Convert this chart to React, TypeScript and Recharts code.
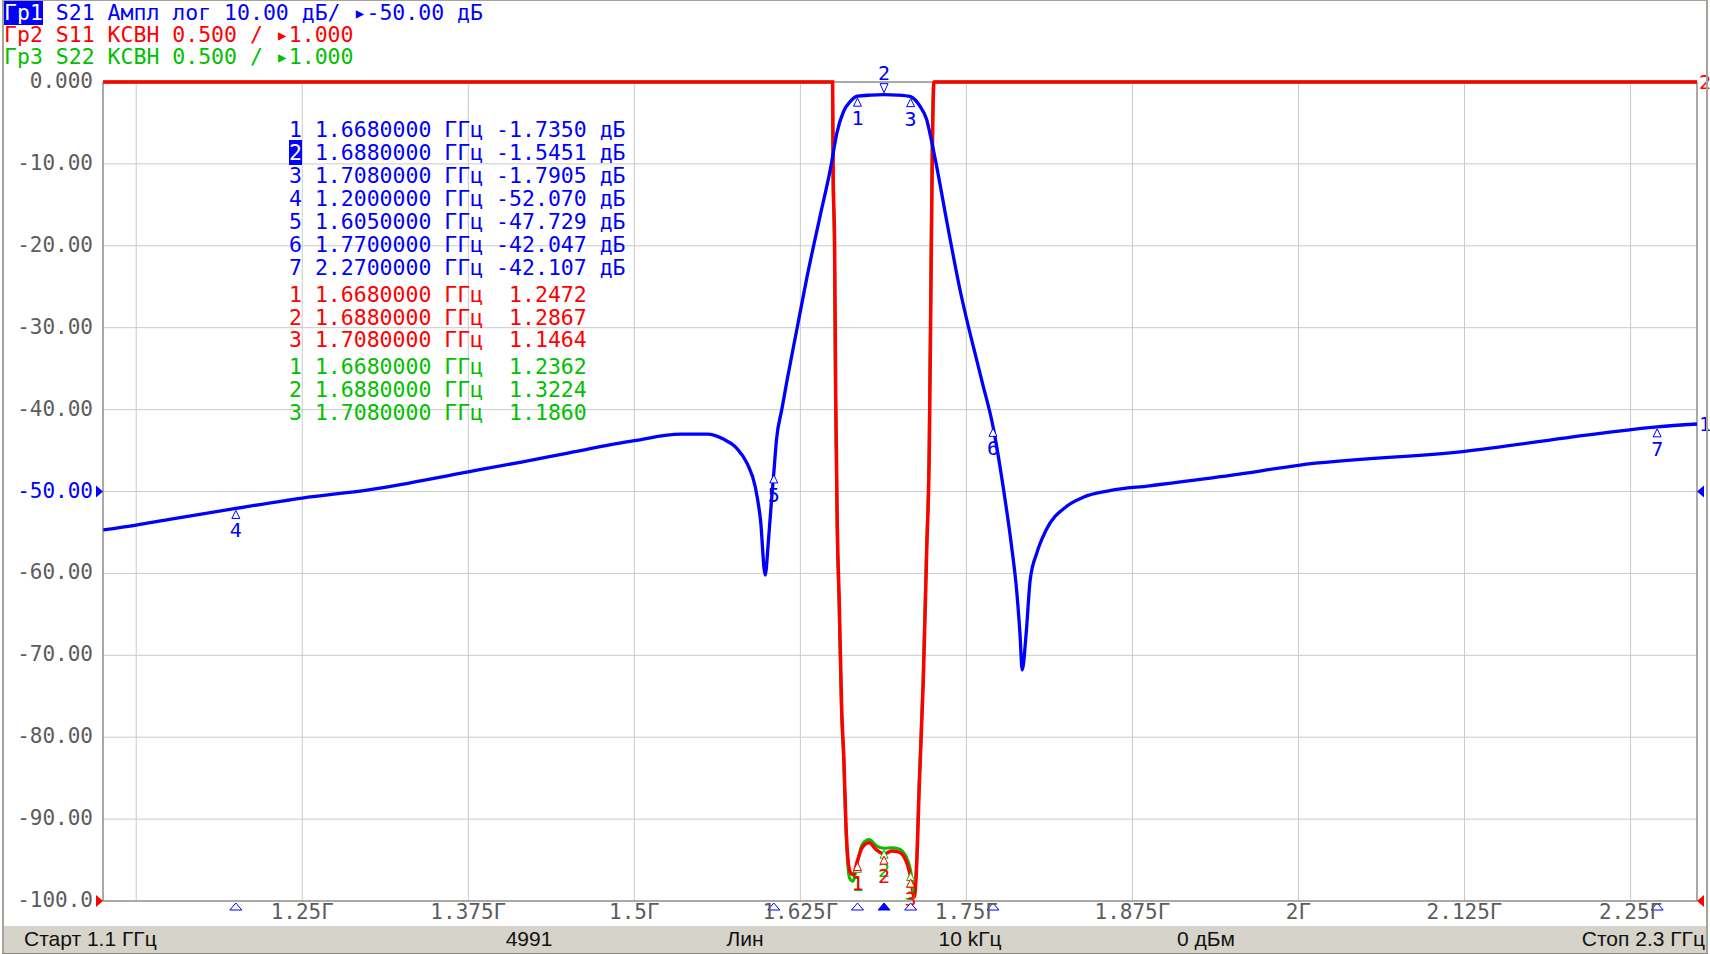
import { LineChart, Line, XAxis, YAxis, CartesianGrid, ReferenceLine, ReferenceDot } from "recharts";

// S21, dB (trace 1)
const S21_FREQ = [
  1.1, 1.125, 1.15, 1.2, 1.25, 1.3, 1.375, 1.415, 1.45, 1.5, 1.535, 1.555, 1.567, 1.577,
  1.585, 1.591, 1.595, 1.5985, 1.601, 1.6035, 1.605, 1.607, 1.611, 1.615, 1.622, 1.63,
  1.6398, 1.648, 1.6525, 1.6575, 1.6625, 1.668, 1.678, 1.688, 1.698, 1.708, 1.7115, 1.715,
  1.72, 1.724, 1.7276, 1.7352, 1.7447, 1.7615, 1.77, 1.778, 1.784, 1.788, 1.7903, 1.792,
  1.795, 1.798, 1.803, 1.81, 1.8255, 1.838, 1.858, 1.888, 1.95, 2.0, 2.125, 2.227, 2.27, 2.3,
];
const S21_DB = [
  -54.7, -54.1, -53.4, -52.07, -50.8, -49.8, -47.6, -46.4, -45.3, -43.8, -43.0, -43.0, -43.6, -44.7,
  -46.6, -49.4, -53.5, -60.2, -55.9, -50.6, -47.73, -43.7, -40.0, -36.4, -30.5, -23.8,
  -16.4, -10.3, -6.2, -3.6, -2.4, -1.735, -1.6, -1.545, -1.6, -1.79, -2.2, -2.96,
  -4.55, -7.4, -10.3, -17.0, -25.0, -36.4, -42.05, -49.8, -56.7, -62.4, -67.3, -71.8,
  -67.3, -60.8, -57.5, -54.7, -51.8, -50.7, -49.9, -49.3, -48.0, -46.8, -45.1, -42.9, -42.1, -41.76,
];

// S11, VSWR (trace 2)
const S11_FREQ = [
  1.1, 1.6493, 1.6497, 1.6508, 1.6516, 1.6528, 1.6543, 1.6561, 1.6578, 1.6593, 1.6623, 1.6648,
  1.668, 1.6715, 1.6767, 1.6826, 1.688, 1.6937, 1.6987, 1.7037, 1.708, 1.7107, 1.7125, 1.7145,
  1.7175, 1.7201, 1.7221, 1.7233, 1.7243, 1.7256, 2.3,
];
const S11_SWR = [
  6.0, 6.0, 5.45, 4.99, 4.09, 3.29, 2.82, 2.17, 1.86, 1.47, 1.18, 1.16,
  1.2472, 1.325, 1.355, 1.31, 1.2867, 1.305, 1.3, 1.26, 1.1464, 1.025, 1.21, 1.7,
  2.335, 3.135, 3.775, 4.735, 5.53, 6.0, 6.0,
];

// S22, VSWR (trace 3)
const S22_FREQ = [
  1.1, 1.6491, 1.6495, 1.6506, 1.6514, 1.6526, 1.6541, 1.6559, 1.6576, 1.6591, 1.662, 1.6645,
  1.668, 1.6715, 1.6767, 1.6826, 1.688, 1.6937, 1.6987, 1.7037, 1.708, 1.7105, 1.7123, 1.7143,
  1.7173, 1.7199, 1.7219, 1.7231, 1.7241, 1.7254, 2.3,
];
const S22_SWR = [
  6.0, 6.0, 5.45, 4.99, 4.09, 3.29, 2.82, 2.17, 1.86, 1.47, 1.14, 1.12,
  1.2362, 1.345, 1.375, 1.335, 1.3224, 1.325, 1.32, 1.285, 1.186, 1.06, 1.2, 1.7,
  2.335, 3.135, 3.775, 4.735, 5.53, 6.0, 6.0,
];

// markers
const S21_MARK_NUM = [1, 2, 3, 4, 5, 6, 7];
const S21_MARK_FREQ = [1.668, 1.688, 1.708, 1.2, 1.605, 1.77, 2.27];
const S21_MARK_DB = [-1.735, -1.5451, -1.7905, -52.07, -47.729, -42.047, -42.107];
const SWR_MARK_NUM = [1, 2, 3];
const SWR_MARK_FREQ = [1.668, 1.688, 1.708];
const S11_MARK_SWR = [1.2472, 1.2867, 1.1464];
const S22_MARK_SWR = [1.2362, 1.3224, 1.186];
const ACTIVE_MARKER = 2;

const X_TICKS = [1.125, 1.25, 1.375, 1.5, 1.625, 1.75, 1.875, 2.0, 2.125, 2.25];
const X_TICK_LABELS = ["", "1.25Г", "1.375Г", "1.5Г", "1.625Г", "1.75Г", "1.875Г", "2Г", "2.125Г", "2.25Г"];
const Y_TICKS = [0, -10, -20, -30, -40, -50, -60, -70, -80, -90, -100];
const Y_TICK_LABELS = ["0.000", "-10.00", "-20.00", "-30.00", "-40.00", "-50.00", "-60.00", "-70.00", "-80.00", "-90.00", "-100.0"];
const REF_LEVEL = -50;

const MONO = '"DejaVu Sans Mono", monospace';
const BLUE = "#0000ff";
const RED = "#ff0000";
const GREEN = "#00c000";
const AXIS = "#6e6e6e";
const TICK = "#5c5c5c";

const toRows = (f: number[], v: number[]) => f.map((x, i) => ({ f: x, v: v[i] }));
const s21 = toRows(S21_FREQ, S21_DB);
const s11 = toRows(S11_FREQ, S11_SWR);
const s22 = toRows(S22_FREQ, S22_SWR);

const XTick = (p: any) => {
  const i = X_TICKS.indexOf(p.payload.value);
  return (
    <text x={p.x} y={p.y} textAnchor="middle" dominantBaseline="central" fill={TICK} fontFamily={MONO} fontSize={21}>
      {X_TICK_LABELS[i]}
    </text>
  );
};

const YTick = (p: any) => {
  const i = Y_TICKS.indexOf(p.payload.value);
  return (
    <text x={p.x} y={p.y - 1} textAnchor="end" dominantBaseline="central"
      fill={p.payload.value === REF_LEVEL ? BLUE : TICK} fontFamily={MONO} fontSize={21}>
      {Y_TICK_LABELS[i]}
    </text>
  );
};

// marker on a trace: small triangle, number below (or above for the active one)
const traceMarker = (color: string, num: number, above: boolean) => (p: any) => {
  const { cx, cy } = p;
  if (above) {
    return (
      <g>
        <path d={`M${cx - 4},${cy - 11} L${cx + 4},${cy - 11} L${cx},${cy - 2} Z`} fill="white" stroke={color} strokeWidth={1} />
        <text x={cx} y={cy - 22} textAnchor="middle" dominantBaseline="central" fill={color} fontFamily={MONO} fontSize={20}>{num}</text>
      </g>
    );
  }
  return (
    <g>
      <path d={`M${cx},${cy + 2} L${cx + 4},${cy + 10} L${cx - 4},${cy + 10} Z`} fill="white" stroke={color} strokeWidth={1} />
      <text x={cx} y={cy + 22} textAnchor="middle" dominantBaseline="central" fill={color} fontFamily={MONO} fontSize={20}>{num}</text>
    </g>
  );
};

// marker position on the frequency axis
const axisMarker = (filled: boolean) => (p: any) => {
  const { cx, cy } = p;
  return (
    <path d={`M${cx},${cy + 2} L${cx + 6},${cy + 9} L${cx - 6},${cy + 9} Z`}
      fill={filled ? BLUE : "white"} stroke={BLUE} strokeWidth={1} />
  );
};

const refArrow = (color: string, side: "left" | "right") => (p: any) => {
  const { cx, cy } = p;
  const d = side === "left"
    ? `M${cx - 7},${cy - 6} L${cx},${cy} L${cx - 7},${cy + 6} Z`
    : `M${cx + 7},${cy - 6} L${cx},${cy} L${cx + 7},${cy + 6} Z`;
  return <path d={d} fill={color} />;
};

const edgeLabel = (color: string, text: string) => (p: any) => (
  <text x={p.cx + 8} y={p.cy} textAnchor="middle" dominantBaseline="central" fill={color} fontFamily={MONO} fontSize={20}>
    {text}
  </text>
);

const rowText = (num: number, f: number, v: number, unit: string) =>
  `${num} ${f.toFixed(7)} ГГц ${v < 0 ? "" : " "}${v.toPrecision(5)}${unit}`;

export default function App() {
  return (
    <div style={{ position: "absolute", left: 0, top: 0, width: 1710, height: 954, background: "white", overflow: "hidden" }}>
      <LineChart width={1710} height={954} margin={{ top: 82, right: 13, bottom: 0, left: 0 }}>
        <CartesianGrid stroke="#cacaca" strokeWidth={1} />
        <XAxis
          dataKey="f"
          type="number"
          domain={[1.1, 2.3]}
          ticks={X_TICKS}
          height={53}
          tickLine={false}
          tickSize={0}
          tickMargin={11}
          axisLine={{ stroke: AXIS }}
          tick={<XTick />}
          interval={0}
        />
        <YAxis
          type="number"
          domain={[-100, 0]}
          ticks={Y_TICKS}
          width={103}
          tickLine={false}
          tickSize={0}
          tickMargin={10}
          axisLine={{ stroke: AXIS }}
          tick={<YTick />}
          interval={0}
        />
        <YAxis yAxisId="swr" type="number" domain={[1, 6]} hide />
        <ReferenceLine y={0} stroke={AXIS} />
        <ReferenceLine x={2.3} stroke={AXIS} />

        <Line data={s22} yAxisId="swr" dataKey="v" stroke={GREEN} strokeWidth={3} dot={false} type="monotone" isAnimationActive={false} />
        <Line data={s11} yAxisId="swr" dataKey="v" stroke={RED} strokeWidth={3.5} dot={false} type="monotone" isAnimationActive={false} />
        <Line data={s21} dataKey="v" stroke={BLUE} strokeWidth={3.3} dot={false} type="monotone" isAnimationActive={false} />

        {SWR_MARK_FREQ.map((f, i) => (
          <ReferenceDot key={"g" + i} x={f} y={S22_MARK_SWR[i]} yAxisId="swr" ifOverflow="visible"
            shape={traceMarker(GREEN, SWR_MARK_NUM[i], false)} />
        ))}
        {SWR_MARK_FREQ.map((f, i) => (
          <ReferenceDot key={"r" + i} x={f} y={S11_MARK_SWR[i]} yAxisId="swr" ifOverflow="visible"
            shape={traceMarker(RED, SWR_MARK_NUM[i], false)} />
        ))}
        {S21_MARK_FREQ.map((f, i) => (
          <ReferenceDot key={"b" + i} x={f} y={S21_MARK_DB[i]} ifOverflow="visible"
            shape={traceMarker(BLUE, S21_MARK_NUM[i], S21_MARK_NUM[i] === ACTIVE_MARKER)} />
        ))}
        {S21_MARK_FREQ.map((f, i) => (
          <ReferenceDot key={"a" + i} x={f} y={-100} ifOverflow="visible"
            shape={axisMarker(S21_MARK_NUM[i] === ACTIVE_MARKER)} />
        ))}

        <ReferenceDot x={1.1} y={REF_LEVEL} ifOverflow="visible" shape={refArrow(BLUE, "left")} />
        <ReferenceDot x={2.3} y={REF_LEVEL} ifOverflow="visible" shape={refArrow(BLUE, "right")} />
        <ReferenceDot x={1.1} y={1} yAxisId="swr" ifOverflow="visible" shape={refArrow(RED, "left")} />
        <ReferenceDot x={2.3} y={1} yAxisId="swr" ifOverflow="visible" shape={refArrow(RED, "right")} />
        <ReferenceDot x={2.3} y={S21_DB[S21_DB.length - 1]} ifOverflow="visible" shape={edgeLabel(BLUE, "1")} />
        <ReferenceDot x={2.3} y={S11_SWR[S11_SWR.length - 1]} yAxisId="swr" ifOverflow="visible" shape={edgeLabel(RED, "2")} />
      </LineChart>

      {/* trace header */}
      <div style={{ position: "absolute", left: 4, top: 2, fontFamily: MONO, fontSize: 21.5, lineHeight: "22px", whiteSpace: "pre" }}>
        <div style={{ color: BLUE }}>
          <span style={{ background: BLUE, color: "white" }}>Гр1</span> S21 Ампл лог 10.00 дБ/ ▸-50.00 дБ
        </div>
        <div style={{ color: RED }}>Гр2 S11 КСВН 0.500 / ▸1.000</div>
        <div style={{ color: GREEN }}>Гр3 S22 КСВН 0.500 / ▸1.000</div>
      </div>

      {/* marker table */}
      <div style={{ position: "absolute", left: 289, top: 118, fontFamily: MONO, fontSize: 21.5, lineHeight: "23px", whiteSpace: "pre", color: BLUE }}>
        {S21_MARK_FREQ.map((f, i) => {
          const t = rowText(S21_MARK_NUM[i], f, S21_MARK_DB[i], " дБ");
          return S21_MARK_NUM[i] === ACTIVE_MARKER ? (
            <div key={i}><span style={{ background: BLUE, color: "white" }}>{t.slice(0, 1)}</span>{t.slice(1)}</div>
          ) : (
            <div key={i}>{t}</div>
          );
        })}
      </div>
      <div style={{ position: "absolute", left: 289, top: 284, fontFamily: MONO, fontSize: 21.5, lineHeight: "22.6px", whiteSpace: "pre", color: RED }}>
        {SWR_MARK_FREQ.map((f, i) => <div key={i}>{rowText(SWR_MARK_NUM[i], f, S11_MARK_SWR[i], "")}</div>)}
      </div>
      <div style={{ position: "absolute", left: 289, top: 355, fontFamily: MONO, fontSize: 21.5, lineHeight: "23px", whiteSpace: "pre", color: GREEN }}>
        {SWR_MARK_FREQ.map((f, i) => <div key={i}>{rowText(SWR_MARK_NUM[i], f, S22_MARK_SWR[i], "")}</div>)}
      </div>

      {/* status bar */}
      <div style={{ position: "absolute", left: 2, top: 926, width: 1706, height: 27, background: "#d6d3cb", borderBottom: "1px solid #8a8780",
        fontFamily: '"Liberation Sans", Arial, sans-serif', fontSize: 21, color: "#111" }}>
        <span style={{ position: "absolute", left: 22, top: 1 }}>Старт 1.1 ГГц</span>
        <span style={{ position: "absolute", left: 527, top: 1, transform: "translateX(-50%)" }}>4991</span>
        <span style={{ position: "absolute", left: 743, top: 1, transform: "translateX(-50%)" }}>Лин</span>
        <span style={{ position: "absolute", left: 968, top: 1, transform: "translateX(-50%)" }}>10 kГц</span>
        <span style={{ position: "absolute", left: 1204, top: 1, transform: "translateX(-50%)" }}>0 дБм</span>
        <span style={{ position: "absolute", right: 3, top: 1 }}>Стоп 2.3 ГГц</span>
      </div>

      {/* window frame */}
      <div style={{ position: "absolute", left: 2, top: 0, width: 1706, height: 953, borderLeft: "2px solid #a6a39b", borderTop: "1px solid #a6a39b", borderRight: "2px solid #a6a39b", boxSizing: "border-box", pointerEvents: "none" }} />
    </div>
  );
}
